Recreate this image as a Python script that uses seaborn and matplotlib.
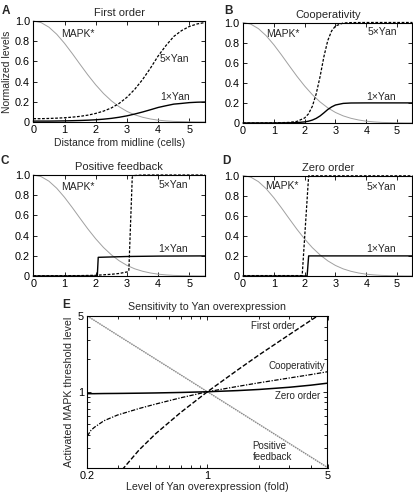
import matplotlib
matplotlib.use("Agg")
import matplotlib.pyplot as plt
import matplotlib.ticker as mticker
import numpy as np
import pandas as pd
import seaborn as sb

# distance from midline (cells), shared grid for panels A and MAPK*
dist = [0, 0.25, 0.5, 0.75, 1.0, 1.25, 1.5, 1.75, 2.0, 2.25, 2.5, 2.75,
        3.0, 3.25, 3.5, 3.75, 4.0, 4.25, 4.5, 4.75, 5.0, 5.25, 5.5]
mapk = [1.0, 0.984, 0.939, 0.869, 0.779, 0.677, 0.570, 0.465, 0.368, 0.282, 0.210, 0.151,
        0.105, 0.071, 0.047, 0.030, 0.018, 0.011, 0.006, 0.004, 0.002, 0.001, 0.0005]

# A: first order
a_yan5 = [0.033, 0.033, 0.035, 0.038, 0.042, 0.048, 0.056, 0.068, 0.085, 0.108, 0.139, 0.184,
          0.245, 0.324, 0.420, 0.532, 0.654, 0.757, 0.847, 0.905, 0.946, 0.971, 0.985]
a_yan1 = [0.009, 0.009, 0.009, 0.010, 0.011, 0.013, 0.015, 0.018, 0.022, 0.028, 0.036, 0.047,
          0.061, 0.079, 0.099, 0.121, 0.144, 0.161, 0.177, 0.184, 0.192, 0.196, 0.198]

# B: cooperativity
b_dist = [0, 0.5, 1.0, 1.5, 1.75, 2.0, 2.125, 2.25, 2.375, 2.5, 2.625, 2.75, 2.875,
          3.0, 3.25, 3.5, 4.0, 4.5, 5.0, 5.5]
b_yan5 = [0.0004, 0.0005, 0.001, 0.006, 0.016, 0.050, 0.091, 0.166, 0.29, 0.46, 0.66, 0.82, 0.916,
          0.965, 0.995, 0.999, 1.0, 1.0, 1.0, 1.0]
b_yan1 = [0.0002, 0.0003, 0.0006, 0.002, 0.004, 0.011, 0.018, 0.029, 0.046, 0.070, 0.101, 0.134, 0.160,
          0.179, 0.195, 0.199, 0.2, 0.2, 0.2, 0.2]

# C: positive feedback
c_dist5 = [0, 1.5, 2.0, 2.1, 2.5, 2.75, 3.0, 3.06, 3.17, 3.25, 3.5, 5.5]
c_yan5 = [0.002, 0.004, 0.007, 0.009, 0.017, 0.025, 0.04, 0.05, 0.98, 0.995, 1.0, 1.0]
c_dist1 = [0, 2.0, 2.05, 2.08, 3.0, 4.0, 5.5]
c_yan1 = [0.0, 0.0, 0.0, 0.185, 0.193, 0.197, 0.199]

# D: zero order
d_dist5 = [0, 1.92, 2.13, 5.5]
d_yan5 = [0.004, 0.004, 0.997, 0.997]
d_dist1 = [0, 2.08, 2.13, 5.5]
d_yan1 = [0.0, 0.0, 0.2, 0.2]

# E: threshold vs Yan overexpression
fold = [0.2, 0.21, 0.22, 0.25, 0.3, 0.4, 0.5, 0.7, 1.0, 1.5, 2.0, 3.0, 4.0, 5.0]
thr_first = [np.nan, np.nan, np.nan, np.nan, 0.17, 0.29, 0.41, 0.645, 1.0, 1.59, 2.19, 3.37, 4.56, 5.74]
thr_coop = [0.39, 0.44, 0.47, 0.54, 0.61, 0.70, 0.77, 0.88, 1.0, 1.12, 1.21, 1.34, 1.44, 1.53]
thr_zero = [0.96, 0.96, 0.96, 0.963, 0.965, 0.97, 0.975, 0.985, 1.0, 1.025, 1.05, 1.1, 1.15, 1.2]
thr_pos = [5.0, 4.76, 4.55, 4.0, 3.33, 2.5, 2.0, 1.43, 1.0, 0.667, 0.5, 0.333, 0.25, 0.2]

GRAY = "#a0a0a0"
W, H = 414, 495


def px_axes(fig, left, top, right, bottom):
    return fig.add_axes([left / W, 1 - bottom / H, (right - left) / W, (bottom - top) / H])


def style_axes(ax):
    for s in ax.spines.values():
        s.set_linewidth(0.8)
        s.set_color("black")
    ax.tick_params(which="both", direction="in", top=True, right=True,
                   labelsize=7.8, pad=2.5, width=0.6, colors="black")
    ax.tick_params(which="major", length=3)
    ax.tick_params(which="minor", length=2)


def profile_panel(ax, title, x5, y5, x1, y1, labels):
    sb.lineplot(x=dist, y=mapk, ax=ax, color=GRAY, linewidth=0.7, estimator=None, sort=False,
                clip_on=False)
    sb.lineplot(x=x5, y=y5, ax=ax, color="black", linewidth=0.9, estimator=None, sort=False,
                linestyle=(0, (2.2, 1.3)), clip_on=False, zorder=5)
    sb.lineplot(x=x1, y=y1, ax=ax, color="black", linewidth=1.0, estimator=None, sort=False,
                clip_on=False)
    ax.set_xlim(0, 5.5)
    ax.set_ylim(0, 1)
    ax.set_xticks([0, 1, 2, 3, 4, 5])
    ax.set_xticklabels(["0", "1", "2", "3", "4", "5"])
    ax.set_yticks([0, 0.2, 0.4, 0.6, 0.8, 1.0])
    ax.set_yticklabels(["0", "0.2", "0.4", "0.6", "0.8", "1.0"])
    ax.set_xlabel("")
    ax.set_ylabel("")
    ax.set_title(title, fontsize=8, pad=3.5)
    style_axes(ax)
    (mx, my), (fx, fy), (ox, oy) = labels
    ax.text(mx, my, "MAPK*", fontsize=7.5, ha="left", va="center")
    ax.text(fx, fy, "5\u00d7Yan", fontsize=7.5, ha="left", va="center")
    ax.text(ox, oy, "1\u00d7Yan", fontsize=7.5, ha="left", va="center")


sb.set_style("ticks")
plt.rcParams["font.family"] = ["Liberation Sans", "DejaVu Sans"]

fig = plt.figure(figsize=(W / 100, H / 100), dpi=100)
axA = px_axes(fig, 33.3, 21, 205, 122)
axB = px_axes(fig, 243, 22.5, 412.5, 123)
axC = px_axes(fig, 33.3, 175, 205, 276)
axD = px_axes(fig, 243, 175.5, 412.5, 276)
axE = px_axes(fig, 87.3, 316, 327.5, 467.5)

profile_panel(axA, "First order", dist, a_yan5, dist, a_yan1,
              [(0.88, 0.87), (4.05, 0.62), (4.05, 0.245)])
profile_panel(axB, "Cooperativity", b_dist, b_yan5, b_dist, b_yan1,
              [(0.76, 0.89), (4.05, 0.91), (4.0, 0.26)])
profile_panel(axC, "Positive feedback", c_dist5, c_yan5, c_dist1, c_yan1,
              [(0.88, 0.88), (4.0, 0.9), (4.0, 0.27)])
profile_panel(axD, "Zero order", d_dist5, d_yan5, d_dist1, d_yan1,
              [(0.72, 0.9), (4.0, 0.89), (4.0, 0.27)])
axA.set_xlabel("Distance from midline (cells)", fontsize=7.5, labelpad=2)
axA.set_ylabel("Normalized levels", fontsize=7.5, labelpad=2)

# panel E
df = pd.DataFrame({"fold": fold, "first": thr_first, "coop": thr_coop,
                   "zero": thr_zero, "pos": thr_pos})
sb.lineplot(data=df, x="fold", y="pos", ax=axE, color="#8a8a8a", linewidth=1.0,
            estimator=None, linestyle=(0, (1.2, 0.5)))
sb.lineplot(data=df.dropna(), x="fold", y="first", ax=axE, color="black", linewidth=1.0,
            estimator=None, linestyle=(0, (3.5, 1.5)))
sb.lineplot(data=df, x="fold", y="coop", ax=axE, color="black", linewidth=0.9,
            estimator=None, linestyle=(0, (3.5, 1.2, 1.0, 1.2)))
sb.lineplot(data=df, x="fold", y="zero", ax=axE, color="black", linewidth=1.1, estimator=None)
axE.set_xscale("log")
axE.set_yscale("log")
axE.set_xlim(0.2, 5)
axE.set_ylim(0.2, 5)
axE.set_xticks([0.2, 1, 5])
axE.set_xticklabels(["0.2", "1", "5"])
axE.set_yticks([0.2, 1, 5])
axE.set_yticklabels(["", "1", "5"])
axE.xaxis.set_minor_locator(mticker.LogLocator(base=10, subs=range(2, 10), numticks=20))
axE.yaxis.set_minor_locator(mticker.LogLocator(base=10, subs=range(2, 10), numticks=20))
axE.xaxis.set_minor_formatter(mticker.NullFormatter())
axE.yaxis.set_minor_formatter(mticker.NullFormatter())
style_axes(axE)
axE.set_title("Sensitivity to Yan overexpression", fontsize=7.7, pad=4)
axE.set_xlabel("Level of Yan overexpression (fold)", fontsize=7.7, labelpad=1)
axE.set_ylabel("Activated MAPK threshold level", fontsize=7.7, labelpad=3)
axE.text(2.43, 4.04, "First order", fontsize=7, ha="center", va="center")
axE.text(3.31, 1.72, "Cooperativity", fontsize=7, ha="center", va="center")
axE.text(3.33, 0.905, "Zero order", fontsize=7, ha="center", va="center")
axE.text(1.83, 0.281, "Positive\nfeedback", fontsize=7, ha="left", va="center")

# panel letters
for letter, (lx, ly) in zip("ABCDE", [(6, 11), (229, 11), (5, 161), (226, 161), (66, 305)]):
    fig.text(lx / W, 1 - ly / H, letter, fontsize=8.5, fontweight="bold", ha="center", va="center")

fig.savefig("out.png", dpi=100)
